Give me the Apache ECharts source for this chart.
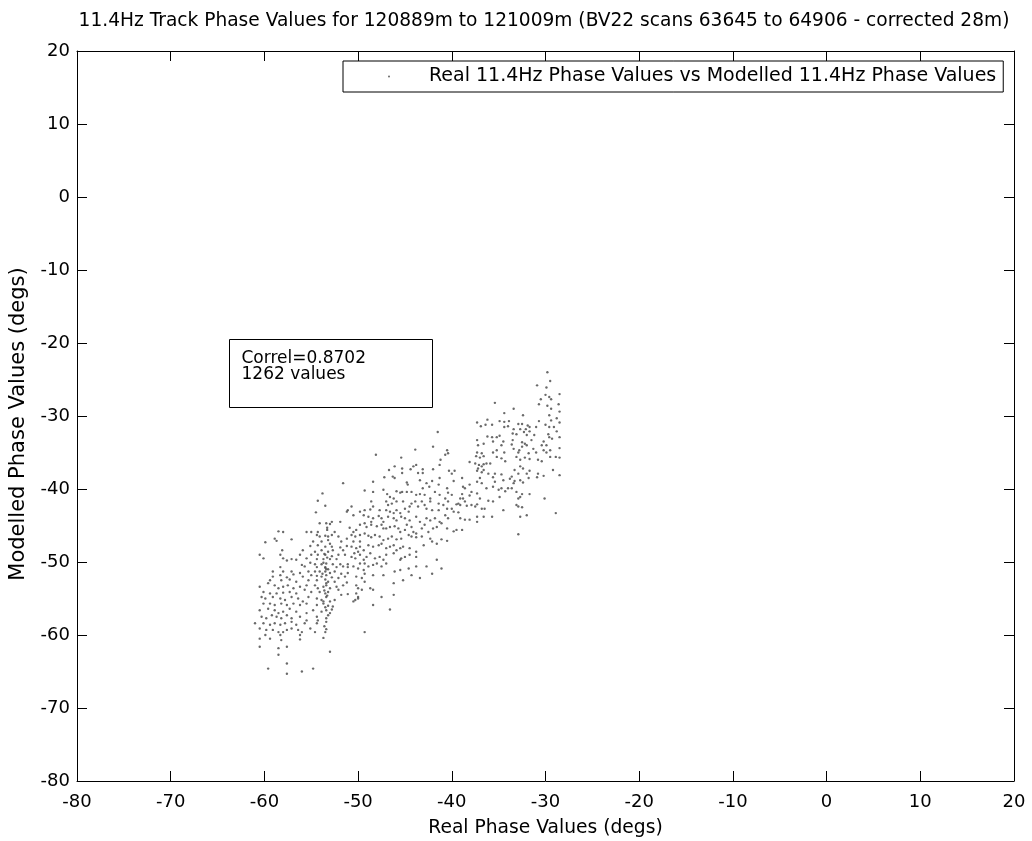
<!DOCTYPE html>
<html>
<head>
<meta charset="utf-8">
<script src="https://cdn.jsdelivr.net/npm/echarts@6/dist/echarts.min.js"></script>
<style>
  html, body { margin: 0; padding: 0; background: #fff; }
  #chart { width: 1032px; height: 841px; }
</style>
</head>
<body>
<div id="chart"></div>
<script>
// Axis ticks (degrees)
const axisTicks = [-80, -70, -60, -50, -40, -30, -20, -10, 0, 10, 20];

const titleText = '11.4Hz Track Phase Values for 120889m to 121009m (BV22 scans 63645 to 64906 - corrected 28m)';
const seriesName = 'Real 11.4Hz Phase Values vs Modelled 11.4Hz Phase Values';
const statsLines = ['Correl=0.8702', '1262 values'];

// [real phase, modelled phase] pairs, grouped by region of the cloud
const band30Upper = [
  [-29.8,-24.0],[-29.5,-25.2],[-30.9,-25.8],[-29.9,-26.1],[-28.5,-27.0],[-30.0,-27.1],[-29.6,-27.4],[-30.5,-27.7],
  [-29.4,-27.7],[-35.4,-28.2],[-30.7,-28.4],[-29.8,-28.6],[-28.6,-28.4],[-33.4,-29.0],[-29.4,-29.0],[-34.4,-29.6],
  [-28.5,-29.4],[-32.4,-29.9],[-29.6,-29.9],[-28.8,-30.3],[-37.3,-30.9],[-36.2,-30.5],[-34.9,-30.7],[-34.4,-30.8],
  [-33.9,-30.7],[-30.7,-30.7],[-29.4,-30.6],[-28.5,-30.9],[-36.9,-31.4],[-36.4,-31.2],[-35.7,-31.2],[-34.4,-31.5],
  [-34.0,-31.4],[-32.9,-31.1],[-32.5,-31.1],[-31.9,-31.3],[-31.7,-31.5],[-31.0,-31.5],[-30.0,-31.2],[-29.6,-31.5],
  [-29.1,-31.5],[-33.4,-31.8],[-32.7,-31.8],[-32.1,-31.8],[-32.3,-32.2],[-31.7,-32.1],[-32.0,-32.6],[-33.1,-32.5],
  [-33.5,-32.4],[-31.2,-32.6],[-29.7,-32.5],[-28.8,-32.1],[-34.9,-32.7],[-35.2,-32.9],[-35.7,-32.9],[-36.2,-32.8],
  [-37.3,-33.3],[-36.6,-33.8],[-35.6,-33.5],[-34.5,-33.5],[-33.5,-33.3],[-32.5,-33.6],[-32.2,-33.8],[-31.5,-33.3],
  [-30.2,-33.5],[-29.6,-32.9],[-29.3,-33.1],[-28.5,-32.9],[-37.2,-34.0],[-34.7,-34.0],[-33.6,-33.9],[-32.5,-34.2],
  [-32.0,-34.0],[-30.4,-34.0],[-29.9,-34.0],[-28.5,-34.4],[-35.2,-34.7],[-33.4,-34.5],[-32.8,-34.7],[-31.3,-34.5],
  [-30.2,-34.7],[-29.5,-34.7],[-37.3,-35.0],[-36.8,-35.1],[-35.6,-35.0],[-34.4,-35.0],[-32.9,-35.0],[-31.8,-35.1],
  [-31.0,-35.0],[-29.9,-35.0]
];

const band30Lower = [
  [-38.1,-36.3],[-37.4,-35.5],[-37.0,-35.7],[-36.6,-35.5],[-35.2,-35.6],[-34.7,-35.8],[-34.3,-36.2],[-33.1,-35.6],
  [-32.7,-36.0],[-32.2,-35.7],[-31.7,-35.9],[-30.8,-36.0],[-30.4,-36.2],[-29.5,-35.6],[-28.9,-35.6],[-28.5,-35.7],
  [-37.5,-36.5],[-37.1,-36.7],[-36.8,-36.9],[-36.6,-36.6],[-36.3,-36.5],[-35.9,-36.5],[-36.6,-37.4],[-37.2,-37.2],
  [-37.3,-37.5],[-36.8,-37.7],[-36.1,-37.9],[-35.4,-37.9],[-34.7,-38.0],[-33.3,-37.4],[-32.7,-36.9],[-32.4,-37.2],
  [-32.9,-37.9],[-32.0,-37.9],[-31.7,-37.5],[-30.9,-38.4],[-30.8,-37.9],[-30.2,-38.2],[-29.2,-37.4],[-28.5,-38.1],
  [-39.7,-37.5],[-40.0,-37.9],[-39.8,-38.9],[-38.9,-38.5],[-37.0,-38.5],[-37.3,-39.0],[-36.8,-39.2],[-35.6,-38.4],
  [-35.4,-39.0],[-34.5,-38.8],[-33.8,-38.6],[-33.6,-38.3],[-33.3,-38.9],[-32.7,-38.8],[-32.4,-39.1],[-31.8,-38.5],
  [-33.4,-39.2],[-38.8,-39.7],[-38.6,-39.9],[-38.1,-39.4],[-36.3,-39.9],[-35.6,-39.7],[-35.0,-40.1],[-34.7,-39.9],
  [-34.3,-40.3],[-34.0,-39.9],[-33.6,-39.9],[-33.1,-40.4],[-32.5,-40.7],[-31.7,-40.7],[-40.0,-40.8],[-38.9,-40.7],
  [-37.3,-40.6],[-37.9,-40.4],[-39.1,-41.3],[-38.8,-41.3],[-38.6,-41.7],[-38.1,-40.9],[-37.0,-41.3],[-36.1,-41.6],
  [-35.6,-41.7],[-34.9,-41.1],[-32.9,-41.3],[-32.7,-41.1],[-30.1,-41.3],[-39.5,-42.1],[-39.3,-42.0],[-39.1,-42.2],
  [-38.4,-42.3],[-37.9,-42.2],[-37.5,-42.4],[-37.3,-42.1],[-36.8,-42.7],[-36.5,-42.7],[-33.1,-42.2],[-32.9,-42.4],
  [-32.5,-42.5],[-34.5,-42.9],[-40.0,-42.7],[-39.8,-43.1],[-39.3,-43.2],[-39.1,-44.0],[-38.6,-44.2],[-38.1,-44.2],
  [-37.3,-43.8],[-37.3,-44.5],[-36.6,-43.8],[-35.7,-43.8],[-32.7,-43.8],[-32.0,-43.6],[-28.9,-43.3],[-39.5,-45.6],
  [-38.9,-45.6],[-39.8,-45.8],[-32.9,-46.2]
];

const band45Upper = [
  [-41.5,-32.2],[-42.0,-34.2],[-43.9,-34.6],[-40.5,-34.7],[-40.4,-35.1],[-40.7,-35.3],[-48.1,-35.3],[-45.4,-35.7],
  [-41.2,-36.0],[-41.3,-36.7],[-43.8,-36.7],[-46.1,-36.9],[-44.1,-36.9],[-44.4,-37.3],[-45.3,-37.2],[-45.3,-37.8],
  [-46.7,-37.4],[-43.6,-37.8],[-43.1,-37.3],[-43.1,-37.8],[-42.0,-37.3],[-40.3,-37.5],[-46.3,-38.3],[-47.2,-38.4],
  [-46.1,-38.5],[-43.4,-38.8],[-44.8,-39.1],[-44.7,-39.4],[-42.1,-38.9],[-42.7,-39.2],[-41.3,-38.5],[-41.4,-39.4],
  [-48.4,-39.0],[-43.1,-39.9],[-42.4,-39.7],[-40.5,-39.9],[-49.3,-40.2],[-48.4,-40.4],[-47.3,-40.1],[-46.9,-40.7],
  [-45.9,-40.3],[-45.5,-40.5],[-45.3,-40.4],[-44.8,-40.4],[-44.3,-40.4],[-43.8,-40.8],[-43.4,-40.7],[-42.9,-40.8],
  [-41.8,-40.4],[-41.3,-40.8],[-40.4,-40.5],[-42.3,-41.3],[-40.7,-41.3],[-46.2,-41.3],[-46.6,-41.1]
];

const band45Lower = [
  [-48.6,-41.7],[-47.0,-41.7],[-46.8,-42.2],[-46.4,-42.0],[-45.9,-41.7],[-45.2,-41.7],[-44.3,-42.0],[-43.9,-41.7],
  [-43.2,-41.7],[-42.9,-42.2],[-42.3,-41.7],[-41.4,-42.0],[-40.9,-42.2],[-40.4,-41.7],[-50.7,-42.4],[-49.8,-43.1],
  [-49.3,-42.9],[-48.7,-42.8],[-48.4,-42.4],[-47.7,-42.9],[-47.0,-42.9],[-46.6,-43.1],[-46.2,-43.3],[-45.9,-42.9],
  [-45.5,-43.3],[-45.0,-42.7],[-44.6,-43.1],[-44.5,-42.4],[-43.6,-42.4],[-42.7,-42.7],[-42.1,-42.9],[-41.4,-42.9],
  [-40.5,-42.7],[-50.5,-43.6],[-49.4,-43.6],[-48.9,-43.8],[-48.4,-44.0],[-47.8,-43.7],[-47.5,-44.0],[-47.3,-44.5],
  [-46.8,-43.8],[-46.2,-44.0],[-45.9,-44.3],[-45.4,-43.8],[-45.0,-44.0],[-44.5,-44.3],[-43.8,-43.8],[-43.4,-44.5],
  [-42.7,-44.0],[-42.3,-44.3],[-41.8,-44.0],[-41.3,-44.5],[-40.7,-43.6],[-40.4,-44.0],[-48.6,-44.5],[-49.3,-44.7],
  [-49.8,-44.9],[-49.1,-45.2],[-48.6,-44.9],[-48.0,-45.1],[-47.5,-44.9],[-47.3,-45.4],[-47.0,-45.4],[-46.6,-45.2],
  [-46.1,-45.1],[-45.7,-45.4],[-45.5,-45.9],[-45.0,-45.6],[-44.8,-44.9],[-44.3,-45.2],[-44.1,-45.9],[-43.8,-46.1],
  [-43.2,-45.4],[-42.9,-44.9],[-42.5,-45.9],[-42.0,-45.4],[-41.6,-45.2],[-41.1,-44.7],[-40.5,-45.4],[-50.5,-45.9],
  [-50.2,-45.6],[-50.7,-46.3],[-50.3,-46.5],[-49.8,-46.3],[-49.3,-46.1],[-48.9,-46.4],[-48.6,-46.6],[-48.2,-46.3],
  [-47.7,-46.5],[-47.3,-47.0],[-46.8,-46.8],[-46.4,-46.5],[-45.9,-46.9],[-45.4,-46.8],[-44.6,-46.3],[-44.3,-46.5],
  [-43.8,-46.6],[-43.2,-46.5],[-42.3,-46.8],[-42.1,-47.2],[-41.6,-47.5],[-41.1,-46.9],[-40.5,-47.1],[-50.5,-47.2],
  [-49.8,-47.2],[-50.7,-47.9],[-50.2,-48.1],[-49.8,-47.9],[-49.4,-48.4],[-48.9,-47.7],[-48.4,-47.9],[-47.8,-47.7],
  [-47.5,-47.5],[-47.0,-48.1],[-46.6,-47.9],[-46.2,-47.7],[-45.9,-48.4],[-45.5,-48.1],[-45.2,-47.9],[-44.5,-48.1],
  [-43.8,-48.6],[-43.0,-47.7],[-50.4,-48.8],[-50.0,-48.6],[-50.7,-49.3],[-50.3,-49.5],[-49.8,-49.0],[-49.4,-49.7],
  [-49.1,-49.3],[-48.7,-48.8],[-48.2,-49.5],[-47.7,-49.3],[-47.3,-49.7],[-47.0,-49.0],[-46.2,-48.8],[-45.5,-49.7],
  [-45.4,-49.5],[-45.0,-49.3],[-44.5,-49.0],[-43.8,-49.3],[-41.6,-49.7],[-49.8,-50.2],[-49.3,-50.2],[-50.5,-50.6],
  [-50.0,-50.9],[-49.4,-51.1],[-48.9,-50.6],[-48.4,-50.4],[-48.0,-50.2],[-47.5,-50.6],[-47.0,-50.2],[-46.1,-51.3],
  [-45.5,-51.1],[-44.6,-50.9],[-43.8,-50.6],[-42.7,-50.6],[-41.1,-50.9],[-50.2,-52.0],[-49.6,-52.2],[-49.3,-51.6],
  [-48.4,-51.8],[-47.3,-51.8],[-44.3,-51.8],[-43.4,-52.2],[-42.1,-51.6],[-50.2,-53.2],[-50.0,-53.6],[-49.6,-53.8],
  [-50.2,-54.3],[-50.0,-54.8],[-50.3,-55.2],[-50.0,-55.0],[-50.5,-55.4],[-48.7,-53.6],[-48.4,-53.8],[-47.5,-54.8],
  [-46.2,-54.5],[-48.4,-55.9],[-46.6,-56.5],[-45.2,-52.5],[-46.2,-52.9],[-49.3,-52.7],[-49.3,-59.6]
];

const band55Upper = [
  [-51.6,-39.2],[-53.8,-40.6],[-54.3,-41.6],[-53.5,-42.3],[-51.1,-42.9],[-51.2,-43.1],[-54.5,-43.2],[-51.9,-44.5],
  [-52.8,-44.5],[-53.0,-44.8],[-53.4,-44.7],[-54.1,-44.7],[-55.0,-45.9],[-55.5,-45.9],[-54.3,-45.9],[-53.3,-45.3],
  [-53.3,-45.6],[-52.5,-45.9],[-50.9,-45.3],[-58.5,-45.8],[-58.0,-45.9],[-54.4,-46.3],[-54.1,-46.5],[-53.5,-46.4],
  [-53.2,-46.5],[-52.8,-46.3],[-52.1,-46.5],[-51.2,-46.8],[-58.9,-46.8],[-58.7,-47.1],[-57.1,-46.9],[-59.9,-47.3],
  [-54.8,-47.2],[-53.9,-47.2],[-53.2,-47.0],[-53.0,-47.5],[-51.8,-47.2],[-55.1,-47.8],[-54.3,-47.7],[-53.5,-47.9],
  [-52.8,-47.9],[-51.9,-48.0],[-51.2,-47.8],[-55.9,-48.4],[-58.1,-48.4],[-54.6,-48.6],[-53.9,-48.4],[-53.2,-48.6],
  [-52.7,-48.4],[-51.6,-48.4],[-60.5,-49.0],[-58.3,-49.0],[-56.2,-49.0],[-55.0,-49.0],[-54.3,-49.0],[-53.5,-49.0],
  [-52.8,-49.2],[-52.1,-49.0],[-51.4,-49.0],[-60.1,-49.5],[-58.0,-49.5],[-57.1,-49.6],[-55.5,-49.5],[-54.4,-49.6],
  [-53.7,-49.6],[-53.0,-49.6],[-52.3,-49.6],[-57.6,-49.8],[-56.6,-49.7],[-55.1,-50.1],[-54.6,-50.3],[-53.9,-50.3],
  [-53.4,-50.2],[-52.7,-50.3],[-51.9,-50.3],[-51.1,-50.3],[-58.3,-50.7],[-56.0,-50.4],[-55.7,-50.6],[-54.4,-50.7],
  [-53.5,-50.7],[-53.4,-51.0],[-52.3,-50.7],[-51.6,-50.6],[-51.1,-50.7]
];

const band55Lower = [
  [-59.1,-51.3],[-58.0,-51.3],[-57.1,-51.3],[-56.2,-51.5],[-55.3,-51.3],[-54.6,-51.3],[-54.1,-51.3],[-53.5,-51.3],
  [-53.0,-51.5],[-52.5,-51.3],[-51.8,-51.6],[-51.1,-51.5],[-59.1,-52.0],[-58.3,-51.8],[-57.6,-52.1],[-56.9,-51.7],
  [-55.9,-52.0],[-55.0,-51.8],[-54.4,-51.9],[-53.9,-52.0],[-53.4,-51.8],[-52.8,-52.1],[-52.1,-52.2],[-51.4,-52.0],
  [-59.4,-52.5],[-58.2,-52.5],[-57.3,-52.4],[-56.6,-52.7],[-55.3,-52.5],[-54.4,-52.5],[-53.5,-52.4],[-53.2,-52.7],
  [-52.5,-52.7],[-51.2,-52.8],[-60.5,-53.4],[-59.6,-52.9],[-58.9,-53.2],[-58.5,-53.6],[-58.0,-53.4],[-57.5,-53.2],
  [-56.9,-53.6],[-56.2,-53.4],[-55.5,-53.2],[-54.6,-53.2],[-54.3,-53.6],[-53.7,-53.4],[-53.4,-53.2],[-53.0,-53.6],
  [-52.3,-53.4],[-51.6,-53.2],[-60.1,-54.1],[-59.4,-54.3],[-58.7,-54.3],[-58.0,-54.2],[-57.3,-54.1],[-56.6,-54.3],
  [-55.7,-53.8],[-55.0,-54.1],[-54.1,-54.1],[-53.5,-54.3],[-53.2,-54.1],[-52.1,-53.8],[-51.8,-54.5],[-51.1,-54.4],
  [-60.3,-54.8],[-59.9,-55.0],[-59.1,-54.8],[-58.3,-55.0],[-57.8,-55.2],[-57.1,-54.8],[-56.4,-55.0],[-55.9,-55.4],
  [-55.3,-54.8],[-54.4,-55.0],[-53.9,-55.2],[-53.4,-54.8],[-53.0,-55.4],[-52.5,-55.2],[-60.1,-55.7],[-59.4,-55.7],
  [-58.9,-55.9],[-58.2,-55.7],[-57.6,-55.9],[-56.9,-55.7],[-56.2,-55.9],[-55.5,-55.7],[-54.4,-55.9],[-53.7,-55.7],
  [-53.2,-56.0],[-52.7,-56.1],[-60.5,-56.6],[-59.6,-56.4],[-58.9,-56.6],[-58.5,-57.0],[-58.0,-56.8],[-57.3,-56.4],
  [-56.6,-56.8],[-55.5,-57.0],[-54.8,-56.6],[-53.9,-56.8],[-53.4,-56.6],[-52.8,-56.5],[-60.3,-57.5],[-59.8,-57.7],
  [-59.2,-57.3],[-58.7,-57.5],[-58.2,-57.7],[-57.6,-57.3],[-57.1,-57.7],[-56.2,-57.5],[-55.5,-58.0],[-54.4,-57.5],
  [-54.3,-58.0],[-53.4,-57.7],[-53.0,-57.0],[-61.0,-58.4],[-60.1,-58.4],[-59.4,-58.6],[-58.9,-58.4],[-58.3,-58.6],
  [-57.8,-58.4],[-57.1,-58.2],[-56.6,-58.6],[-55.7,-58.4],[-54.4,-58.4],[-53.4,-58.2],[-60.5,-59.1],[-59.8,-59.3],
  [-59.1,-59.3],[-58.5,-59.6],[-58.0,-59.6],[-57.6,-59.3],[-57.1,-59.1],[-56.4,-59.3],[-56.0,-59.6],[-55.1,-59.1],
  [-54.6,-59.6],[-53.5,-59.6],[-59.9,-60.0],[-58.3,-60.0],[-56.2,-60.0],[-60.5,-60.5],[-59.4,-60.5],[-58.2,-60.7],
  [-56.2,-60.6],[-60.5,-61.6],[-58.5,-61.8],[-57.6,-61.6],[-53.0,-62.3],[-58.5,-62.7],[-57.6,-63.9],[-59.6,-64.6],
  [-57.6,-65.3],[-56.0,-65.0],[-54.8,-64.6]
];

// the dense vertical streak near -53.5 degrees
const streak53 = [
  [-53.6,-48.9],[-53.3,-49.4],[-53.7,-50.1],[-53.5,-50.8],[-53.2,-51.0],[-53.8,-51.6],[-53.4,-52.9],[-53.6,-53.9],
  [-53.3,-54.6],[-53.7,-55.4],[-53.5,-56.2],[-53.2,-57.3],[-53.6,-58.8],[-53.4,-59.2],[-53.7,-60.4]
];

const phasePairs = [].concat(band30Upper, band30Lower, band45Upper, band45Lower, band55Upper, band55Lower, streak53);

const FONT = 'DejaVu Sans';
const chart = echarts.init(document.getElementById('chart'), null, { renderer: 'canvas' });

const axisBase = {
  type: 'value',
  min: axisTicks[0],
  max: axisTicks[axisTicks.length - 1],
  interval: axisTicks[1] - axisTicks[0],
  splitLine: { show: false },
  axisLine: { show: true, onZero: false, lineStyle: { color: '#000', width: 1 } },
  axisTick: { show: true, inside: true, length: 10, lineStyle: { color: '#000', width: 1 } }
};

chart.setOption({
  animation: false,
  backgroundColor: '#fff',
  textStyle: { fontFamily: FONT, color: '#000' },
  title: {
    text: titleText,
    left: 544,
    top: 12,
    textAlign: 'center',
    padding: 0,
    textStyle: { fontFamily: FONT, fontSize: 18.6, fontWeight: 'normal', color: '#000' }
  },
  legend: {
    data: [seriesName],
    left: 343,
    top: 61,
    padding: [6, 7, 6, 45],
    itemWidth: 70,
    itemHeight: 2,
    icon: 'circle',
    borderColor: '#000',
    borderWidth: 1,
    borderRadius: 0,
    backgroundColor: '#fff',
    selectedMode: false,
    textStyle: { fontFamily: FONT, fontSize: 19, color: '#000' }
  },
  grid: { left: 77, right: 18, top: 51, bottom: 60, containLabel: false, outerBoundsMode: 'none' },
  xAxis: [
    Object.assign({}, axisBase, {
      position: 'bottom',
      name: 'Real Phase Values (degs)',
      nameLocation: 'middle',
      nameGap: 38,
      nameTextStyle: { fontFamily: FONT, fontSize: 18.7, color: '#000' },
      axisLabel: { margin: 12, fontFamily: FONT, fontSize: 18, color: '#000' }
    }),
    Object.assign({}, axisBase, { position: 'top', axisLabel: { show: false } })
  ],
  yAxis: [
    Object.assign({}, axisBase, {
      position: 'left',
      name: 'Modelled Phase Values (degs)',
      nameLocation: 'middle',
      nameGap: 48,
      nameRotate: 90,
      nameTextStyle: { fontFamily: FONT, fontSize: 21, color: '#000', padding: [0, 16, 0, 0] },
      axisLabel: { margin: 7, fontFamily: FONT, fontSize: 18, color: '#000' }
    }),
    Object.assign({}, axisBase, { position: 'right', axisLabel: { show: false } })
  ],
  series: [{
    name: seriesName,
    type: 'scatter',
    xAxisIndex: 0,
    yAxisIndex: 0,
    symbol: 'circle',
    symbolSize: 2.4,
    silent: true,
    itemStyle: { color: '#505050', opacity: 0.85 },
    data: phasePairs
  }],
  graphic: [{
    type: 'group',
    left: 229,
    top: 339,
    children: [
      { type: 'rect', shape: { x: 0, y: 0, width: 203, height: 68 }, style: { fill: '#fff', stroke: '#000', lineWidth: 1 } },
      { type: 'text', x: 12, y: 11, style: { text: statsLines.join('\n'), fontFamily: FONT, fontSize: 17, lineHeight: 16, fill: '#000' } }
    ]
  }]
});
</script>
</body>
</html>
